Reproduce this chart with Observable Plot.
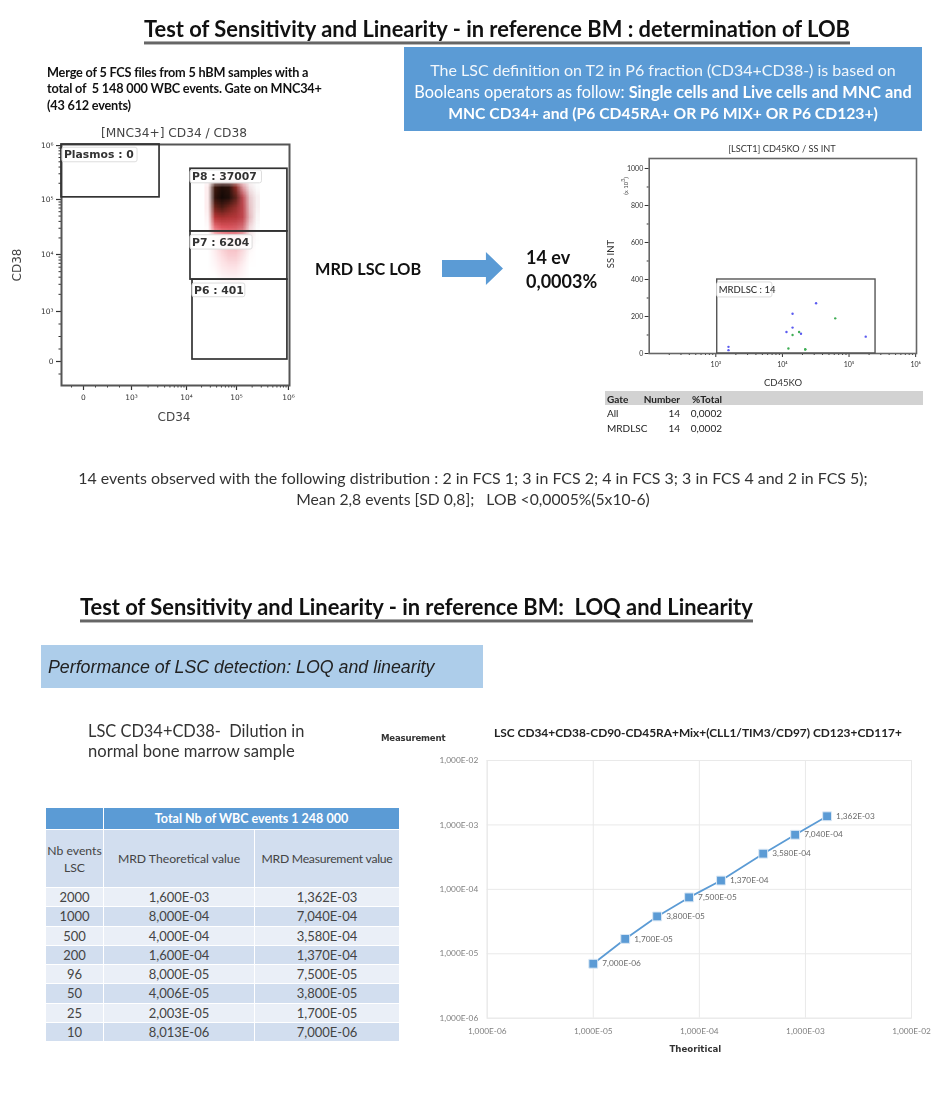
<!DOCTYPE html>
<html><head><meta charset="utf-8">
<script src="https://cdn.jsdelivr.net/npm/d3@7"></script>
<script src="https://cdn.jsdelivr.net/npm/@observablehq/plot@0.6"></script>
<style>
html,body{margin:0;background:#fff}
#page{position:relative;width:946px;height:1096px;overflow:hidden;font-family:Lato,sans-serif;color:#111;filter:blur(.35px)}
.t{position:absolute;white-space:nowrap;transform:translateY(-50%)}
.c{transform:translate(-50%,-50%)}
.ul{border-bottom:3px solid #666;line-height:1.1;font-weight:700}
svg{position:absolute;overflow:visible}
table{position:absolute;border-collapse:collapse;table-layout:fixed;font-family:Lato,sans-serif}
#lin td,#lin th{border:1.5px solid #fff;text-align:center;padding:0;font-size:13px;color:#444;font-weight:400;white-space:nowrap;overflow:visible}
#lin td.h{font-size:12.2px}
#gate td,#gate th{padding:0;font-size:10px;color:#222;height:14.5px;text-align:right}
</style></head><body><div id="page"></div>
<script>
// ---------- Linearity table / chart ----------
const nbEvents = [2000,1000,500,200,96,50,25,10];
const theoTable = ["1,600E-03","8,000E-04","4,000E-04","1,600E-04","8,000E-05","4,006E-05","2,003E-05","8,013E-06"];
const measured = [1.362e-3,7.04e-4,3.58e-4,1.37e-4,7.5e-5,3.8e-5,1.7e-5,7e-6];
const theoretical = [1.6e-3,8e-4,4e-4,1.6e-4,8e-5,4e-5,2e-5,1e-5];
const decades = [1e-6,1e-5,1e-4,1e-3,1e-2];

// ---------- CD34 / CD38 gates (log10 units; 2 is the "0" tick) ----------
const gateNames = ["Plasmos : 0","P8 : 37007","P7 : 6204","P6 : 401"];
const gateX1 = [1.54,4.08,4.08,4.12];
const gateX2 = [3.51,5.98,5.98,5.98];
const gateY1 = [5.04,4.42,3.56,2.04];
const gateY2 = [6.02,5.57,4.42,3.56];
const labelX1 = [1.56,4.08,4.08,4.12];
const labelX2 = [3.11,5.49,5.31,5.17];
const labelY1 = [5.69,5.30,4.09,3.25];
const labelY2 = [5.96,5.54,4.35,3.49];
const cloudCols = 8, cloudRows = 12;
const cloudDensity = [
 0,.05,.12,.1,.05,.02,0,0,
 .05,.86,.96,.92,.68,.22,.04,0,
 .05,.9,1,.96,.78,.4,.1,.02,
 .05,.76,.82,.74,.62,.42,.12,.02,
 .03,.56,.6,.56,.52,.42,.14,.01,
 .01,.34,.4,.4,.38,.32,.08,0,
 0,.12,.19,.24,.24,.16,.04,0,
 0,.06,.12,.16,.16,.1,.02,0,
 0,.04,.09,.12,.12,.07,.01,0,
 0,.02,.06,.08,.08,.04,0,0,
 0,0,.03,.04,.04,.02,0,0,
 0,0,0,0,0,0,0,0];
const hazeDensity = [
 0,0,.02,.02,.02,.01,0,0,
 0,.02,.04,.06,.1,.12,.06,.02,
 0,.02,.05,.08,.16,.2,.1,.04,
 0,.02,.05,.08,.16,.2,.1,.04,
 0,.02,.04,.08,.12,.18,.1,.03,
 0,.01,.03,.05,.08,.12,.06,.02,
 0,0,.01,.02,.03,.05,.03,.01,
 0,0,.01,.01,.02,.02,.01,0,
 0,0,0,.01,.01,.01,0,0,
 0,0,0,0,0,0,0,0,
 0,0,0,0,0,0,0,0,
 0,0,0,0,0,0,0,0];
const densityStops = [0,.08,.25,.45,.7,.85,1];
const densityColors = ["#ffffff","#fde3e6","#f59aa3","#dd3f48","#8f2a22","#40190f","#140805"];

// ---------- CD45KO / SS INT events ----------
const lsctX = [1550,1550,11500,14200,14200,19000,32000,178000, 14200,17800,12300,22000,22000,62000];
const lsctY = [36,18,116,215,140,107,272,91, 100,116,27,23,21,190];
const lsctType = ["b","b","b","b","b","b","b","b","g","g","g","g","g","g"];
const gateTable = [["All","14","0,0002"],["MRDLSC","14","0,0002"]];

const page = document.getElementById("page");
function t(html,x,y,size,opt={}){
  const e=document.createElement("div");
  e.className="t"+(opt.center?" c":"")+(opt.ul?" ul":"");
  e.innerHTML=html;
  Object.assign(e.style,{left:x+"px",top:y+"px",fontSize:size+"px"},opt.style||{});
  page.appendChild(e);return e;
}
function box(x,y,w,h,bg){
  const e=document.createElement("div");
  Object.assign(e.style,{position:"absolute",left:x+"px",top:y+"px",width:w+"px",height:h+"px",background:bg});
  page.appendChild(e);return e;
}
function put(svg,x,y){svg.style.left=x+"px";svg.style.top=y+"px";page.appendChild(svg);}

// ---------- Slide texts ----------
const flowFont="'DejaVu Sans'";
t("Test of Sensitivity and Linearity - in reference BM : determination of LOB",144,31,21.9,{ul:true,style:{color:"#111"}});
t("Merge of 5 FCS files from 5 hBM samples with a",47,72,12.7,{style:{fontWeight:700,letterSpacing:"-.2px"}});
t("total of &nbsp;5 148 000 WBC events. Gate on MNC34+",47,88,12.7,{style:{fontWeight:700,letterSpacing:"-.2px"}});
t("(43 612 events)",47,105,12.7,{style:{fontWeight:700,letterSpacing:"-.2px"}});
box(404,47,518,84,"#5b9bd5");
const w={color:"#fff"};
t("The LSC definition on T2 in P6 fraction (CD34+CD38-) is based on",663,69,16,{center:true,style:{...w,opacity:.92}});
t('Booleans operators as follow: <b>Single cells and Live cells and MNC and</b>',663,91,16.3,{center:true,style:w});
t('<b>MNC CD34+ and (P6 CD45RA+ OR P6 MIX+ OR P6 CD123+)</b>',663,113,15.7,{center:true,style:w});
t("[MNC34+] CD34 / CD38",174,133,12.2,{center:true,style:{fontFamily:flowFont,color:"#444"}});
t("CD34",174,417,12,{center:true,style:{fontFamily:flowFont,color:"#444"}});
t("CD38",17,265,12,{center:true,style:{fontFamily:flowFont,color:"#444",transform:"translate(-50%,-50%) rotate(-90deg)"}});
t("MRD LSC LOB",315,268,16.3,{style:{fontWeight:700}});
const arrow=box(442,252,61,33,"#5b9bd5");
arrow.style.clipPath="polygon(0 24%,72% 24%,72% 0,100% 50%,72% 100%,72% 76%,0 76%)";
t("14 ev",526,257,18,{style:{fontWeight:700}});
t("0,0003%",526,281,18,{style:{fontWeight:700}});
t("[LSCT1] CD45KO / SS INT",782,148,9.2,{center:true,style:{color:"#333"}});
t("SS INT",610,254,9.5,{center:true,style:{color:"#333",transform:"translate(-50%,-50%) rotate(-90deg)"}});
t("(x 10<sup style='font-size:5px'>3</sup>)",624,186,6,{center:true,style:{color:"#444",transform:"translate(-50%,-50%) rotate(-90deg)"}});
t("CD45KO",783,382,9.5,{center:true,style:{color:"#333"}});
t("14 events observed with the following distribution : 2 in FCS 1; 3 in FCS 2; 4 in FCS 3; 3 in FCS 4 and 2 in FCS 5);",473,477,15.95,{center:true,style:{color:"#333"}});
t("Mean 2,8 events [SD 0,8]; &nbsp;&nbsp;LOB &lt;0,0005%(5x10-6)",473,499,15.7,{center:true,style:{color:"#333"}});
t("Test of Sensitivity and Linearity - in reference BM:&nbsp; LOQ and Linearity",80,609,21.9,{ul:true});
box(41,645,442,43,"#adcdea");
t("Performance of LSC detection: LOQ and linearity",48,667,17.8,{style:{fontFamily:"'Liberation Sans'",fontStyle:"italic",color:"#222"}});
t("LSC CD34+CD38-&nbsp; Dilution in",88,730,16.4,{style:{color:"#333"}});
t("normal bone marrow sample",88,751,16.6,{style:{color:"#333"}});

// ---------- Linearity table ----------
const tb=document.createElement("table");tb.id="lin";
Object.assign(tb.style,{left:"45px",top:"807px",width:"354px"});
let rows=`<colgroup><col style="width:58px"><col style="width:151px"><col style="width:145px"></colgroup>
<tr style="height:22px;background:#5b9bd5"><th></th><th colspan="2" style="color:#fff;font-weight:700;font-size:12.5px">Total Nb of WBC events 1 248 000</th></tr>
<tr style="height:58px;background:#d2deef"><td class="h" style="line-height:17px">Nb events<br>LSC</td><td class="h">MRD Theoretical value</td><td class="h" style="letter-spacing:-.25px">MRD Measurement value</td></tr>`;
const sci=v=>v.toExponential(3).replace(".",",").replace(/e-(\d)$/,"E-0$1");
nbEvents.forEach((n,i)=>{rows+=`<tr style="height:19.25px;background:${i%2?"#d2deef":"#eaeff7"}"><td>${n}</td><td>${theoTable[i]}</td><td>${sci(measured[i])}</td></tr>`});
tb.innerHTML=rows;page.appendChild(tb);

// ---------- CD34 / CD38 plot ----------
const plotTop=125;
const px=a=>a.map(v=>v-plotTop);
const logMinors=d3.range(3,6).flatMap(d=>[2,3,4,5,6,7,8,9].map(k=>d+Math.log10(k)));
const gates=gateNames.map((name,i)=>({name,x1:gateX1[i],x2:gateX2[i],y1:gateY1[i],y2:gateY2[i],lx1:labelX1[i],lx2:labelX2[i],ly1:labelY1[i],ly2:labelY2[i]}));
const expLabel={2:"0",3:"10³",4:"10⁴",5:"10⁵",6:"10⁶"};
const p1=Plot.plot({
  width:300,height:305,marginLeft:61,marginRight:11,marginTop:19,marginBottom:45,
  style:{fontFamily:flowFont,background:"transparent",color:"#333"},
  x:{type:"linear",domain:[1.54,2,3,4,5,6.02],range:[61,83,131,186,236,289]},
  y:{type:"linear",domain:[1.52,2,3,4,5,6.02],range:px([385,361,311,254,199,144])},
  color:{type:"linear",domain:densityStops,range:densityColors},
  marks:[
    Plot.raster(cloudDensity,{width:cloudCols,height:cloudRows,x1:4.36,x2:5.45,y1:5.5,y2:3.35,fill:d=>d}),
    Plot.raster(hazeDensity,{width:cloudCols,height:cloudRows,x1:4.36,x2:5.45,y1:5.5,y2:3.35,fill:"#333",fillOpacity:d=>d}),
    Plot.axisX({ticks:[2,3,4,5,6],tickFormat:d=>expLabel[d],fontSize:7.5,tickSize:5,tickPadding:4,label:null,strokeWidth:1.2}),
    Plot.axisX({ticks:logMinors.concat([1.75,2.25,2.5,2.75]),tickFormat:()=>"",tickSize:2.5,label:null}),
    Plot.axisY({ticks:[2,3,4,5,6],tickFormat:d=>expLabel[d],fontSize:7.5,tickSize:5,tickPadding:3,label:null,strokeWidth:1.2}),
    Plot.axisY({ticks:logMinors.concat([1.75,2.25,2.5,2.75]),tickFormat:()=>"",tickSize:2.5,label:null}),
    Plot.frame({stroke:"#555",strokeWidth:2}),
    Plot.rect(gates,{x1:"x1",x2:"x2",y1:"y1",y2:"y2",stroke:"#333",strokeWidth:1.7,fill:"none"}),
    Plot.rect(gates,{x1:"lx1",x2:"lx2",y1:"ly1",y2:"ly2",fill:"#fff",fillOpacity:.9,stroke:"#ddd",strokeWidth:1,rx:2}),
    Plot.text(gates,{x:"lx1",y:d=>(d.ly1+d.ly2)/2,text:"name",textAnchor:"start",dx:1.5,fontSize:10.8,fill:"#333",fontWeight:600})
  ]});
put(p1,0,plotTop);

// ---------- CD45KO / SS INT plot ----------
const minor2=d3.range(2,6).flatMap(d=>[2,3,4,5,6,7,8,9].map(k=>k*10**d));
const lsct=lsctX.map((x,i)=>({x,y:lsctY[i],k:lsctType[i]}));
const p2=Plot.plot({
  width:340,height:240,marginLeft:48.7,marginRight:24,marginTop:18,marginBottom:27,
  style:{fontFamily:"Lato",background:"transparent",color:"#333"},
  x:{type:"log",domain:[100,1.03e6]},
  y:{type:"linear",domain:[0,1054]},
  color:{type:"categorical",domain:["b","g"],range:["#5b5bf0","#3fae55"]},
  marks:[
    Plot.axisX({ticks:[1e3,1e4,1e5,1e6],tickFormat:d=>expLabel[Math.round(Math.log10(d))],fontSize:7,tickSize:4,tickPadding:5,label:null}),
    Plot.axisX({ticks:minor2,tickFormat:()=>"",tickSize:2,label:null}),
    Plot.axisY({ticks:[0,200,400,600,800,1000],tickFormat:d=>String(d),fontSize:7,tickSize:4,tickPadding:2,label:null}),
    Plot.axisY({ticks:[100,300,500,700,900],tickFormat:()=>"",tickSize:2,label:null}),
    Plot.frame({stroke:"#666",strokeWidth:1.6}),
    Plot.rect([{}],{x1:1050,x2:2.5e5,y1:0,y2:400,stroke:"#555",strokeWidth:1.4,fill:"none"}),
    Plot.rect([{}],{x1:1050,x2:7080,y1:303,y2:384,fill:"#fff",stroke:"#ddd",strokeWidth:1,rx:2}),
    Plot.text(["MRDLSC : 14"],{x:1050,y:343,text:d=>d,textAnchor:"start",dx:1.5,fontSize:9.5,fill:"#333",fontWeight:500}),
    Plot.dot(lsct,{x:"x",y:"y",r:1.2,fill:"k",stroke:"none"})
  ]});
put(p2,600,140);

// ---------- Gate statistics ----------
box(605,391,317.7,14,"#d2d2d2");
const gt=document.createElement("table");gt.id="gate";
Object.assign(gt.style,{left:"607px",top:"391.5px",width:"115px"});
gt.innerHTML=`<colgroup><col style="width:36px"><col style="width:37px"><col style="width:42px"></colgroup>
<tr><th style="text-align:left">Gate</th><th>Number</th><th>%Total</th></tr>`+
gateTable.map(r=>`<tr><td style="text-align:left">${r[0]}</td><td>${r[1]}</td><td>${r[2]}</td></tr>`).join("");
page.appendChild(gt);

// ---------- Linearity chart ----------
t("LSC CD34+CD38-CD90-CD45RA+Mix+(CLL1/TIM3/CD97) CD123+CD117+",698,732,11.9,{center:true,style:{fontWeight:700,color:"#222"}});
t("Measurement",381,738,8.6,{style:{fontFamily:flowFont,fontWeight:700,color:"#333",letterSpacing:"-.2px"}});
const points=measured.map((m,i)=>({x:theoretical[i],y:m}));
const chart=Plot.plot({
  width:510,height:320,marginLeft:56.7,marginRight:29,marginTop:15,marginBottom:47.3,
  style:{fontFamily:"Lato",background:"transparent",color:"#808080"},
  x:{type:"log",domain:[1e-6,1e-2]},
  y:{type:"log",domain:[1e-6,1e-2]},
  marks:[
    Plot.gridX({ticks:decades,stroke:"#e9e9e9",strokeOpacity:1}),
    Plot.gridY({ticks:decades,stroke:"#e9e9e9",strokeOpacity:1}),
    Plot.frame({stroke:"#e9e9e9"}),
    Plot.axisX({ticks:decades,tickFormat:sci,tickSize:0,tickPadding:10,fontSize:8.3,label:null}),
    Plot.axisY({ticks:decades,tickFormat:sci,tickSize:0,tickPadding:9,fontSize:8.3,label:null}),
    Plot.line(points,{x:"x",y:"y",stroke:"#5b9bd5",strokeWidth:1.8}),
    Plot.dot(points,{x:"x",y:"y",symbol:"square",r:5,fill:"#5b9bd5",stroke:"#dbe8f5",strokeWidth:1}),
    Plot.text(points,{x:"x",y:"y",text:d=>sci(d.y),textAnchor:"start",dx:9,fontSize:8.3,fill:"#6a6a6a"}),
    Plot.text(["Theoritical"],{frameAnchor:"bottom",dx:-4,dy:34,text:d=>d,fontFamily:flowFont,fontWeight:700,fontSize:8.6,fill:"#333"})
  ]});
put(chart,430,745);
</script></body></html>
